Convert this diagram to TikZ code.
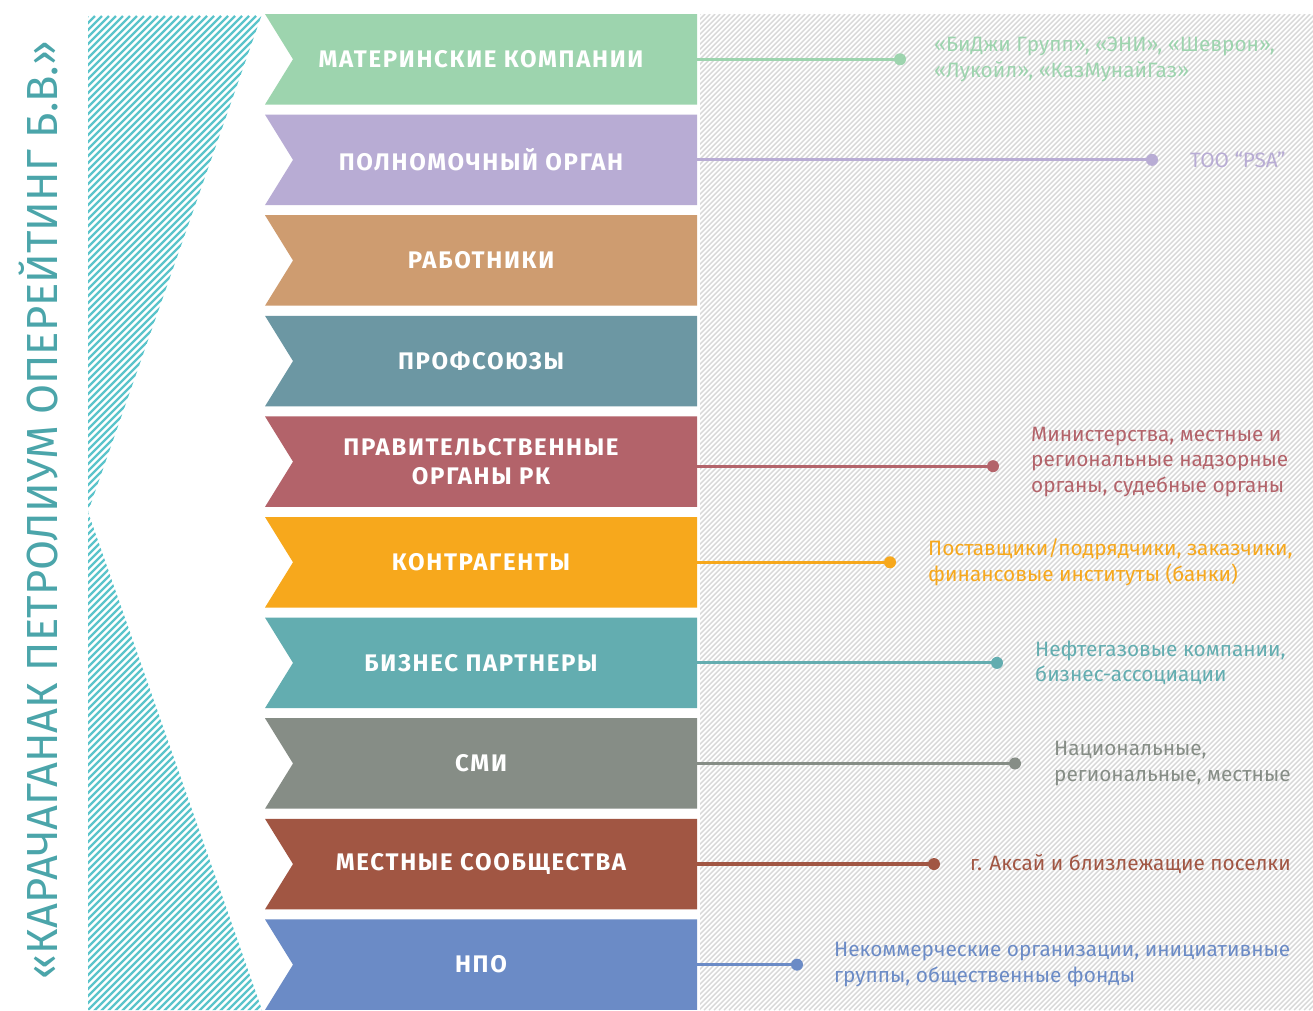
\documentclass[tikz,border=0pt]{standalone}
\usepackage{fontspec}
\setmainfont{Fira Sans}
\newfontfamily\bandfont[LetterSpace=7]{Fira Sans}
\definecolor{cA}{HTML}{9DD4AE}
\definecolor{cB}{HTML}{B8ACD4}
\definecolor{cC}{HTML}{CE9C70}
\definecolor{cD}{HTML}{6C97A3}
\definecolor{cE}{HTML}{B3636A}
\definecolor{cF}{HTML}{F7A81C}
\definecolor{cG}{HTML}{63ADB0}
\definecolor{cH}{HTML}{868D86}
\definecolor{cI}{HTML}{A15643}
\definecolor{cJ}{HTML}{6B8BC6}
\definecolor{teal}{HTML}{5BC4CB}
\definecolor{titlec}{HTML}{4BA5AA}
\definecolor{hatchgray}{HTML}{D8D8D8}
\tikzset{
  bandtext/.style={font=\bandfont\bfseries\fontsize{24}{29}\selectfont, text=white, align=center, inner sep=0pt},
  label/.style={font=\fontsize{20.8}{25.5}\selectfont, align=left, anchor=west, inner sep=0pt},
  conn/.style={line width=3.2pt},
  dotnode/.style={circle, inner sep=0pt, minimum size=12pt},
  hatchL/.style={teal, line width=2.2pt},
  hatchR/.style={hatchgray, line width=1.4pt},
}
\begin{document}
\begin{tikzpicture}[x=1pt,y=-1pt]
\useasboundingbox (0,0) rectangle (1313,1010);
\fill[white] (0,0) rectangle (1313,1010);
% left hatched chevron
\begin{scope}
\clip (88,14) -- (262,14) -- (88,512) -- (262,1010) -- (88,1010) -- cycle;
\foreach \i in {0,...,168} { \draw[hatchL] ({-908+7*\i},1012) -- ({88+7*\i},16); }
\end{scope}
% right hatched background
\begin{scope}
\clip (700,14) rectangle (1313,1010);
\foreach \i in {0,...,324} { \draw[hatchR] ({-296+5*\i},1010) -- ({700+5*\i},14); }
\end{scope}
% title
\node[rotate=90, text=titlec, font=\fontsize{43.5}{48}\selectfont, inner sep=0pt] (title) at (38,510) {«КАРАЧАГАНАК ПЕТРОЛИУМ ОПЕРЕЙТИНГ Б.В.»};
% bands
\foreach \n/\c/\t/\off [count=\k from 0] in {
  b1/cA/{МАТЕРИНСКИЕ КОМПАНИИ}/0,
  b2/cB/{ПОЛНОМОЧНЫЙ ОРГАН}/0,
  b3/cC/{РАБОТНИКИ}/0,
  b4/cD/{ПРОФСОЮЗЫ}/0,
  b5/cE/{ПРАВИТЕЛЬСТВЕННЫЕ\\ОРГАНЫ РК}/4.5,
  b6/cF/{КОНТРАГЕНТЫ}/0,
  b7/cG/{БИЗНЕС ПАРТНЕРЫ}/0,
  b8/cH/{СМИ}/0,
  b9/cI/{МЕСТНЫЕ СООБЩЕСТВА}/0,
  b10/cJ/{НПО}/0} {
  \pgfmathsetmacro{\top}{14+100.6*\k}
  \pgfmathsetmacro{\bot}{\top+90.5}
  \pgfmathsetmacro{\mid}{\top+45.25}
  \pgfmathsetmacro{\cy}{\mid+\off}
  \fill[\c] (265,\top) -- (697,\top) -- (697,\bot) -- (265,\bot) -- (293,\mid) -- cycle;
  \node[bandtext] (\n) at (481,\mid) {\t};
  \coordinate (\n e) at (697,\cy);
}
% connectors, dots and labels
\foreach \n/\c/\dx/\lx/\t/\lo in {
  b1/cA/900/934/{«БиДжи Групп», «ЭНИ», «Шеврон»,\\«Лукойл», «КазМунайГаз»}/0,
  b2/cB/1152/1190/{ТОО “PSA”}/0,
  b5/cE/993/1031/{Министерства, местные и\\региональные надзорные\\органы, судебные органы}/-4.5,
  b6/cF/890/928/{Поставщики/подрядчики, заказчики,\\финансовые институты (банки)}/0,
  b7/cG/997/1035/{Нефтегазовые компании,\\бизнес-ассоциации}/0,
  b8/cH/1015/1054/{Национальные,\\региональные, местные}/0,
  b9/cI/934/970/{г. Аксай и близлежащие поселки}/0,
  b10/cJ/797/834/{Некоммерческие организации, инициативные\\группы, общественные фонды}/0} {
  \node[dotnode, fill=\c] (\n d) at (\dx, 0 |- \n e) {};
  \draw[conn, \c] (\n e) -- (\n d.center);
  \node[label, text=\c, yshift=-\lo pt] (\n l) at (\lx, 0 |- \n e) {\t};
}
\end{tikzpicture}
\end{document}
